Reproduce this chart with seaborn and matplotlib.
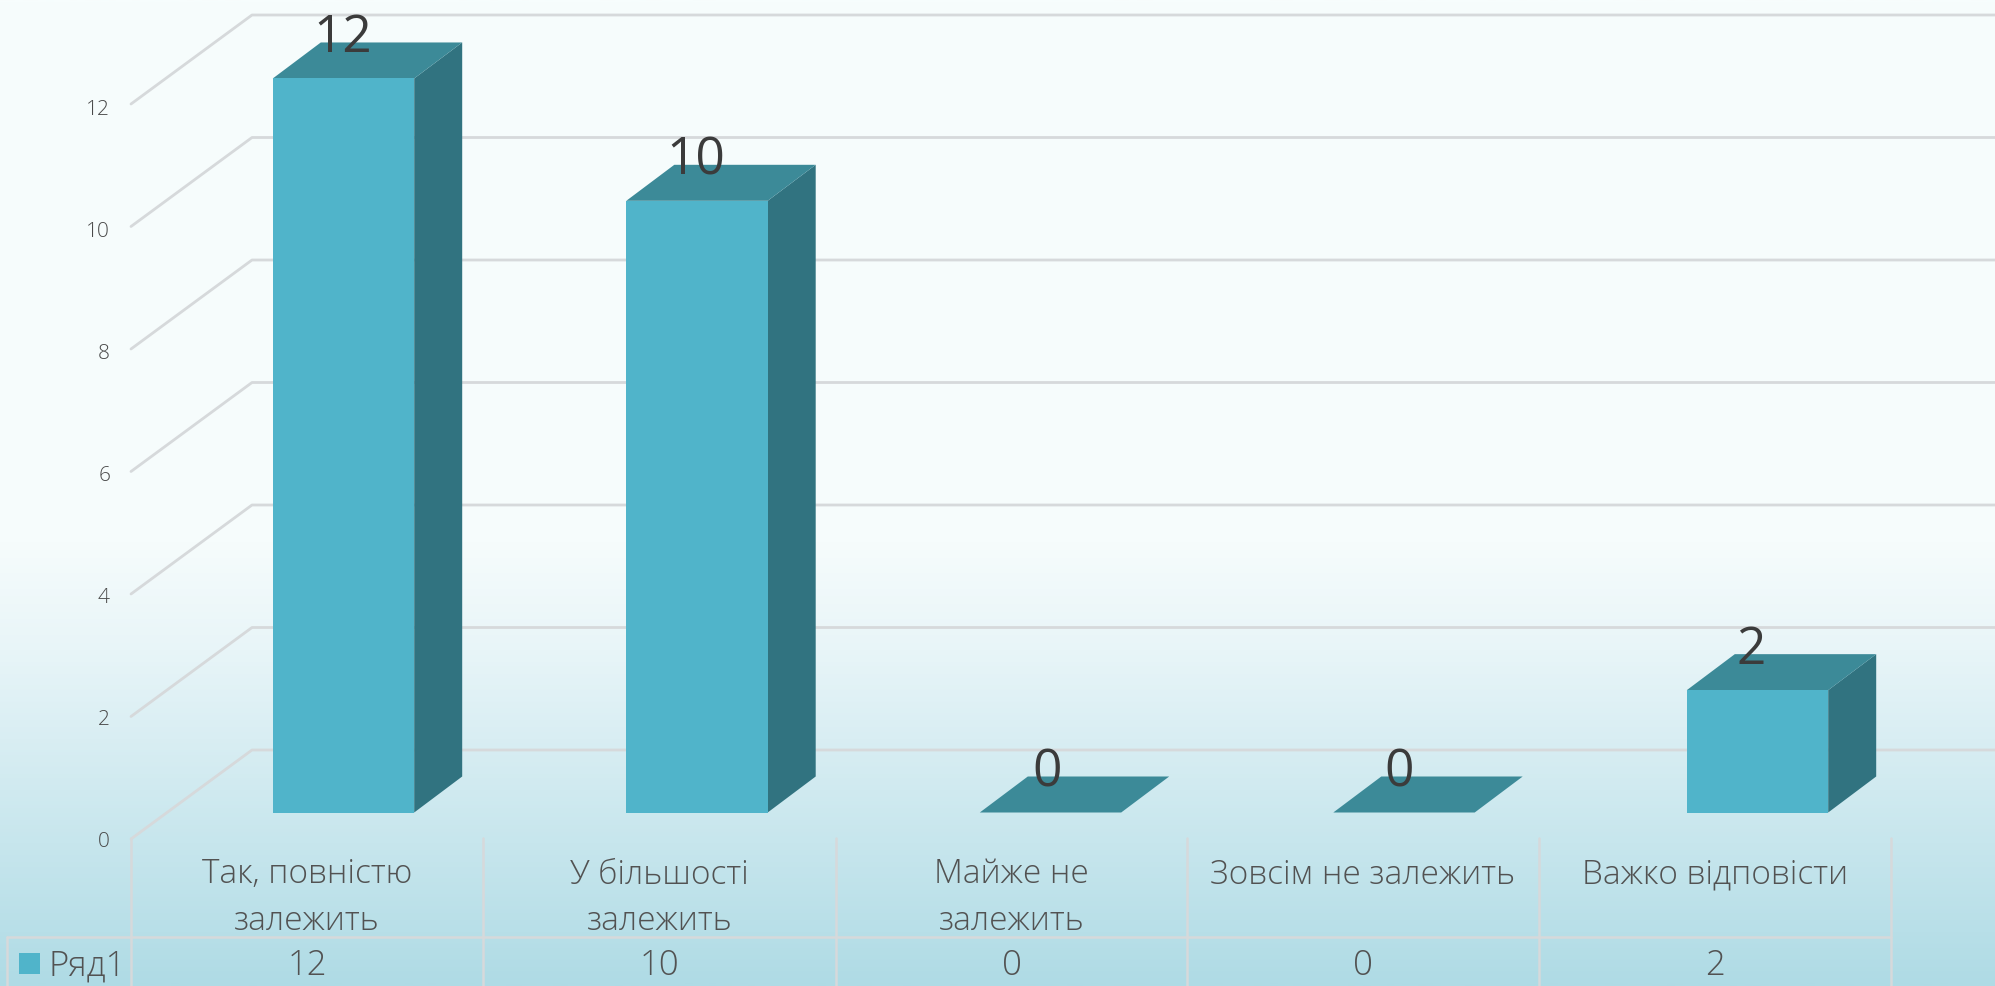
import matplotlib
matplotlib.use('Agg')
import matplotlib.pyplot as plt
from matplotlib.colors import LinearSegmentedColormap
from matplotlib.patches import Polygon, Rectangle
from matplotlib.transforms import Affine2D
import numpy as np
import seaborn as sns

categories = ['Так, повністю\nзалежить', 'У більшості\nзалежить', 'Майже не\nзалежить', 'Зовсім не залежить', 'Важко відповісти']
values = [12, 10, 0, 0, 2]
y_ticks = [0, 2, 4, 6, 8, 10, 12]
series_name = 'Ряд1'

W, H = 1995, 987
FRONT, TOP, SIDE = '#50B4CA', '#3C8A98', '#317380'
GRID = '#D6D9DB'
TEXT = '#525252'

sns.set_style('white')
plt.rcParams['font.family'] = ['Open Sans', 'DejaVu Sans']

fig = plt.figure(figsize=(W / 100, H / 100), dpi=100)

# Background gradient
bg = fig.add_axes([0, 0, 1, 1], zorder=0)
cmap = LinearSegmentedColormap.from_list('bg', [(0, '#F7FDFD'), (0.55, '#F6FCFC'), (0.66, '#E8F5F8'), (1, '#AFDBE5')])
bg.imshow(np.linspace(0, 1, 512).reshape(-1, 1), cmap=cmap, aspect='auto')
bg.axis('off')

# Bars axes fills the figure, limits put the front plane where the reference has it
unit_x, unit_y = 353.5, 61.17
ax = fig.add_axes([0, 0, 1, 1], zorder=1, facecolor='none')
sns.barplot(x=list(range(len(values))), y=values, width=0.4, color=FRONT, saturation=1, linewidth=0, ax=ax, zorder=5)
ax.set_xlim(-343.5 / unit_x, (W - 343.5) / unit_x)
ax.set_ylim((813.5 - H) / unit_y, 813.5 / unit_y)
ax.axis('off')

# pixel coords, origin top left
px = Affine2D().scale(1, -1).translate(0, H)

# walls and y labels
for v in y_ticks:
    y0 = 840 - 61.25 * v
    ax.plot([131, 252, W], [y0, y0 - 89, y0 - 89], color=GRID, lw=2, transform=px, zorder=1, clip_on=False)
    ax.text(110, 842 - 61 * v, str(v), color='#4A4A4A', fontsize=15, fontweight='light', ha='right', va='center', transform=px)

# table column edges, labels of the bars follow these and not the bars
edges = [131, 483, 836, 1187, 1539, 1891]
mids = [(a + b) / 2 for a, b in zip(edges[:-1], edges[1:])]

# 3d faces of the bars
dx, dy = 48 / unit_x, 36 / unit_y
for bar, v, mid in zip(ax.patches, values, mids):
    x0, x1 = bar.get_x(), bar.get_x() + bar.get_width()
    ax.add_patch(Polygon([(x1, 0), (x1 + dx, dy), (x1 + dx, v + dy), (x1, v)], color=SIDE, lw=0, zorder=4))
    ax.add_patch(Polygon([(x0, v), (x1, v), (x1 + dx, v + dy), (x0 + dx, v + dy)], color=TOP, lw=0, zorder=4))
    ax.text(mid + 36, 813 - 61.17 * v - 40, str(v), color='#3B3B3B', fontsize=37, ha='center', va='center', zorder=6, transform=px)

# data table
for x in edges:
    ax.plot([x, x], [839, H], color=GRID, lw=1.8, transform=px, zorder=2, clip_on=False)
ax.plot([7, 1891], [938, 938], color=GRID, lw=1.8, transform=px, zorder=2)
ax.plot([7, 7], [938, H], color=GRID, lw=1.8, transform=px, zorder=2)

for mid, cat, v in zip(mids, categories, values):
    ax.text(mid, 858, cat, color=TEXT, fontsize=24, fontweight='light', ha='center', va='top', linespacing=1.5, transform=px)
    ax.text(mid, 966, str(v), color=TEXT, fontsize=25, fontweight='light', ha='center', va='center', transform=px)

ax.add_patch(Rectangle((19, 954), 21, 21, color=FRONT, lw=0, transform=px, zorder=3))
ax.text(49, 966, series_name, color=TEXT, fontsize=25, fontweight='light', ha='left', va='center', transform=px)

fig.savefig('out.png', dpi=100)
